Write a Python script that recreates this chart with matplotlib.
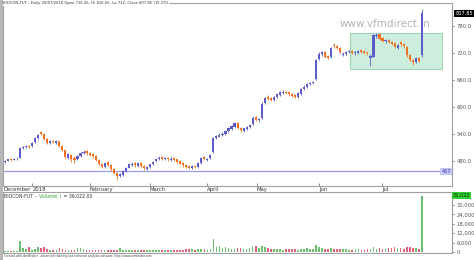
import matplotlib
matplotlib.use("Agg")
import matplotlib.pyplot as plt
import matplotlib.transforms as mtransforms
from matplotlib.patches import Rectangle

# daily candles, Dec 2017 - 20 Jul 2018
opens = [478, 480, 484, 482, 483, 487, 508, 511, 513, 512,
         521, 531, 544, 539, 528, 519, 524, 520, 523, 513,
         503, 487, 494, 486, 483, 491, 497, 501, 498, 495,
         490, 481, 473, 467, 477, 470, 462, 452, 446, 449,
         458, 465, 471, 475, 469, 476, 469, 462, 467, 472,
         479, 483, 488, 483, 487, 482, 486, 483, 479, 475,
         471, 468, 464, 469, 467, 476, 488, 482, 486, 499,
         530, 534, 537, 540, 546, 551, 556, 565, 554, 547,
         551, 555, 561, 577, 570, 575, 608, 622, 619, 615,
         621, 627, 631, 634, 632, 629, 626, 621, 629, 640,
         645, 650, 652, 662, 706, 717, 722, 713, 710, 738,
         736, 731, 716, 717, 721, 725, 719, 720, 726, 724,
         721, 708, 712, 757, 761, 753, 746, 749, 745, 741,
         732, 744, 740, 734, 716, 705, 700, 709, 716.45]
closes = [480, 483, 482, 484, 485, 509, 510, 512, 511, 520,
          530, 537, 540, 528, 520, 523, 521, 524, 512, 504,
          488, 495, 485, 482, 490, 498, 500, 497, 494, 490,
          482, 472, 467, 476, 470, 461, 453, 447, 450, 457,
          465, 472, 474, 470, 475, 468, 463, 466, 472, 478,
          484, 487, 484, 486, 483, 485, 482, 478, 474, 470,
          467, 465, 468, 466, 476, 487, 483, 484, 493, 531,
          535, 538, 540, 546, 552, 557, 564, 553, 548, 552,
          556, 560, 576, 571, 572, 607, 620, 618, 616, 622,
          628, 632, 633, 631, 628, 625, 622, 630, 640, 645,
          650, 653, 655, 704, 718, 721, 712, 709, 731, 735,
          731, 722, 718, 722, 724, 720, 721, 724, 723, 720,
          719, 714, 760, 760, 752, 747, 748, 744, 740, 733,
          737, 739, 735, 715, 704, 700, 708, 702, 807.85]
highs = [482, 485, 486, 486, 488, 511, 513, 515, 515, 522,
         532, 540, 547, 541, 530, 526, 527, 527, 525, 515,
         505, 498, 496, 490, 492, 500, 503, 503, 500, 497,
         492, 483, 475, 478, 479, 472, 464, 455, 452, 459,
         467, 474, 477, 477, 477, 478, 471, 469, 474, 480,
         486, 490, 490, 489, 489, 488, 488, 485, 481, 477,
         473, 470, 470, 471, 478, 489, 490, 487, 495, 533,
         538, 541, 543, 549, 555, 560, 567, 567, 556, 554,
         558, 563, 579, 580, 575, 610, 623, 626, 621, 624,
         630, 635, 637, 636, 634, 631, 628, 632, 642, 648,
         653, 656, 658, 707, 721, 725, 724, 716, 734, 741,
         738, 733, 721, 725, 727, 727, 724, 727, 729, 726,
         723, 717, 763, 764, 764, 755, 751, 751, 747, 743,
         740, 746, 742, 736, 718, 707, 711, 711, 816.65]
lows = [476, 479, 480, 481, 482, 486, 506, 509, 509, 511,
        519, 529, 538, 526, 518, 517, 519, 518, 510, 501,
        485, 484, 478, 476, 481, 489, 495, 494, 491, 487,
        480, 470, 464, 465, 468, 458, 450, 438, 443, 447,
        456, 463, 469, 467, 467, 465, 460, 460, 465, 470,
        477, 481, 482, 481, 480, 480, 479, 475, 472, 467,
        464, 461, 462, 463, 465, 474, 481, 480, 484, 497,
        528, 532, 535, 538, 544, 549, 554, 551, 545, 545,
        549, 553, 559, 568, 567, 573, 606, 615, 613, 613,
        619, 625, 629, 628, 625, 622, 619, 619, 627, 638,
        643, 648, 650, 660, 704, 714, 709, 706, 708, 731,
        728, 719, 713, 715, 719, 717, 716, 718, 720, 717,
        715, 690, 710, 754, 749, 744, 743, 741, 737, 730,
        729, 736, 732, 712, 701, 693, 698, 699, 712]
volumes = [600, 800, 700, 900, 800, 6900, 2500, 2200, 3000, 1500,
           1800, 3300, 2500, 3000, 2000, 1500, 1400, 1600, 2500, 1800,
           1500, 1400, 1600, 1300, 2500, 2600, 2200, 1300, 1200, 1100,
           1200, 1300, 1100, 1000, 1200, 1300, 1200, 1400, 2500, 1500,
           1200, 1100, 1300, 1000, 1200, 1100, 1000, 1200, 1100, 1000,
           1200, 1100, 1300, 1000, 1100, 1200, 1400, 1100, 1300, 1200,
           2000, 1800, 2200, 1500, 2000, 2200, 1800, 1500, 1900, 8500,
           3500, 3600, 2800, 3000, 2500, 2200, 2000, 2800, 2400, 2000,
           2200, 2500, 3700, 3600, 2800, 3800, 3200, 2500, 2200, 2000,
           1800, 2000, 1600, 1900, 2200, 1700, 1800, 1600, 2000, 2100,
           2300, 2000, 2200, 4200, 3000, 2400, 2000, 1800, 2600, 2200,
           1900, 2100, 1700, 1800, 1600, 1500, 1700, 1800, 1600, 1500,
           1700, 2200, 3500, 2200, 2400, 1800, 2000, 2300, 2600, 3000,
           2400, 2700, 2200, 3200, 3000, 2600, 2400, 2200, 36022]

month_pos = [-0.66, 9.0, 28.1, 48.0, 66.9, 83.4, 104.0, 124.8]
month_labels = ['December', '2018', 'February', 'March', 'April', 'May', 'Jun', 'Jul']
price_ticks = [480, 540, 600, 660, 720, 780]
vol_ticks = [0, 6000, 12000, 18000, 24000, 30000]
support = 457
zone = (114.2, 144.7, 684, 764)

UP = '#5c5cc8'
DOWN = '#f2701e'
VUP = '#6cbf6c'
VDOWN = '#e0607a'
EDGE = '#a0a0a0'

W, H = 474, 260
def rect(x0, y0, x1, y1):
    return [x0 / W, 1 - y1 / H, (x1 - x0) / W, (y1 - y0) / H]

fig = plt.figure(figsize=(4.74, 2.60), dpi=100)
ax1 = fig.add_axes(rect(3, 3, 452, 186))
ax2 = fig.add_axes(rect(3, 192, 452, 253))

n = len(closes)
xs = list(range(n))
up = [c >= o for o, c in zip(opens, closes)]
cols = [UP if u else DOWN for u in up]

# green zone
ax1.add_patch(Rectangle((zone[0], zone[2]), zone[1] - zone[0], zone[3] - zone[2],
                        facecolor='#cdeedd', edgecolor='#8fcfa8', lw=0.6, zorder=1))
ax1.axhline(support, color='#9999ee', lw=0.9, zorder=2)

ax1.vlines(xs, lows, highs, colors=cols, lw=0.6, zorder=3)
bottoms = [min(o, c) for o, c in zip(opens, closes)]
heights = [max(abs(c - o), 0.8) for o, c in zip(opens, closes)]
ax1.bar(xs, heights, bottom=bottoms, width=0.7, color=cols, lw=0, zorder=4)

ax1.set_xlim(-0.66, 148)
ax1.set_ylim(424, 831)
ax1.yaxis.tick_right()
ax1.set_yticks(price_ticks)
ax1.set_yticklabels(['%.1f' % v for v in price_ticks])
ax1.tick_params(axis='y', labelsize=3.8, colors='#555555', length=1.5, width=0.5, pad=2)
ax1.set_xticks(month_pos)
ax1.set_xticklabels(month_labels, ha='left')
ax1.tick_params(axis='x', labelsize=3.8, colors='#555555', length=2, width=0.5,
                direction='in', pad=0.5)
for lab in ax1.get_xticklabels():
    lab.set_color('#333333')
for s in ax1.spines.values():
    s.set_color(EDGE)
    s.set_linewidth(0.8)

ax1.text(0.85, 0.885, 'www.vfmdirect.in', transform=ax1.transAxes, fontsize=7.5,
         color='#b4b4b4', ha='center', va='center', zorder=0)

tr = mtransforms.blended_transform_factory(ax1.transAxes, ax1.transData)
ax1.text(1.008, closes[-1], '%.2f' % closes[-1], transform=tr, fontsize=3.6,
         color='white', va='center', ha='left',
         bbox=dict(facecolor='black', edgecolor='none', pad=0.8))
ax1.text(0.997, support, str(support), transform=tr, fontsize=3.6, color='#3030a0',
         va='center', ha='right',
         bbox=dict(facecolor='#c8c8f4', edgecolor='none', pad=0.6))

title = ('BIOCON-FUT - Daily 20/07/2018 Open 716.45, Hi 816.65, Lo 712, '
         'Close 807.85 (15.2%)')
ax1.text(0.0, 1.0, title, transform=ax1.transAxes, fontsize=2.7, color='#333333',
         va='center', ha='left', bbox=dict(facecolor='white', edgecolor='none', pad=0.5))

# volume
vcols = [VUP if u else VDOWN for u in up]
ax2.bar(xs, volumes, width=0.55, color=vcols, lw=0)
ax2.set_xlim(-0.66, 148)
ax2.set_ylim(-600, 38300)
ax2.set_xticks([])
ax2.yaxis.tick_right()
ax2.set_yticks(vol_ticks)
ax2.set_yticklabels(['{:,}'.format(v) for v in vol_ticks])
ax2.tick_params(axis='y', labelsize=3.8, colors='#555555', length=1.5, width=0.5, pad=2)
for s in ax2.spines.values():
    s.set_color(EDGE)
    s.set_linewidth(0.8)
tr2 = mtransforms.blended_transform_factory(ax2.transAxes, ax2.transData)
ax2.text(1.002, volumes[-1], '{:,}'.format(volumes[-1]), transform=tr2, fontsize=3.6,
         color='#003300', va='center', ha='left',
         bbox=dict(facecolor='#33cc33', edgecolor='none', pad=0.6))

# volume caption, pieces placed one after another
fig.canvas.draw()
renderer = fig.canvas.get_renderer()
xpos = 0.002
for part, c in [('BIOCON-FUT - ', '#333333'), ('Volume( )', '#33aa33'),
                (' = 36,022.00', '#333333')]:
    t = ax2.text(xpos, 0.975, part, transform=ax2.transAxes, fontsize=3.3,
                 color=c, va='top', ha='left')
    bb = t.get_window_extent(renderer).transformed(ax2.transAxes.inverted())
    xpos = bb.x1 + 0.003

# left grey strip and footer
fig.patches.append(Rectangle((0, 0), 2.5 / W, 1, transform=fig.transFigure,
                             facecolor='#b8b8b8', edgecolor='none'))
fig.text(4 / W, 1 - 256 / H, 'Created with AmiBroker - advanced charting and technical '
         'analysis software. http://www.amibroker.com', fontsize=2.1, color='#444444',
         va='center', ha='left')

fig.savefig('out.png', dpi=100)
